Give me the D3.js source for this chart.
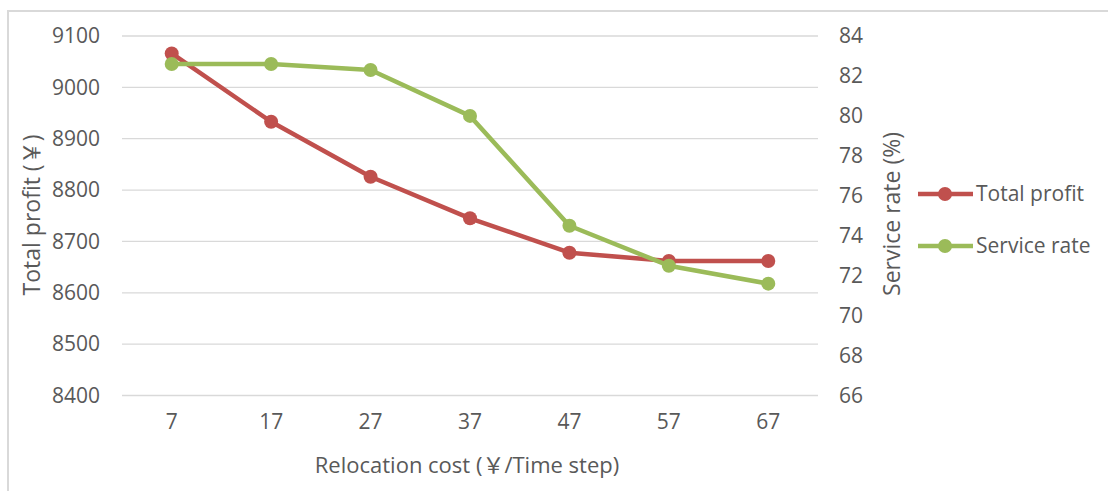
<!DOCTYPE html>
<html>
<head>
<meta charset="utf-8">
<script src="https://cdn.jsdelivr.net/npm/d3@7"></script>
<style>
  body { margin: 0; background: white; }
  svg { font-family: "Open Sans", "DejaVu Sans", sans-serif; }
  .cjk { font-family: "Noto Sans CJK SC", sans-serif; }
</style>
</head>
<body>
<div id="chart"></div>
<script>
// data
const costs = ["7", "17", "27", "37", "47", "57", "67"];
const totalProfit = [9066, 8933, 8826, 8745, 8678, 8662, 8662];
const serviceRate = [82.6, 82.6, 82.3, 80.0, 74.5, 72.5, 71.6];
const profitTicks = [8400, 8500, 8600, 8700, 8800, 8900, 9000, 9100];
const rateTicks = [66, 68, 70, 72, 74, 76, 78, 80, 82, 84];
const seriesNames = ["Total profit", "Service rate"];

const width = 1108, height = 491;
const margin = {top: 36, right: 290, bottom: 95.5, left: 122};
const red = "#C0504D", green = "#9BBB59", textCol = "#595959";

const svg = d3.select("#chart").append("svg")
    .attr("width", width).attr("height", height);

// outer chart border (only top and left visible in the crop)
svg.append("path")
    .attr("d", `M8,${height} L8,11 L${width},11`)
    .attr("fill", "none").attr("stroke", "#d9d9d9").attr("stroke-width", 2);

const x = d3.scaleBand().domain(costs).range([margin.left, width - margin.right]);
const yL = d3.scaleLinear().domain([8400, 9100]).range([height - margin.bottom, margin.top]);
const yR = d3.scaleLinear().domain([66, 84]).range([height - margin.bottom, margin.top]);

// gridlines
svg.append("g").selectAll("line")
    .data(profitTicks).join("line")
    .attr("x1", margin.left).attr("x2", width - margin.right)
    .attr("y1", d => yL(d)).attr("y2", d => yL(d))
    .attr("stroke", "#d9d9d9").attr("stroke-width", 1.3);

function styleAxis(g) {
    g.attr("font-family", null).attr("font-size", null);
    g.select(".domain").remove();
    g.selectAll("text").attr("fill", textCol).style("font-size", "21px");
}

// left axis
svg.append("g").attr("transform", `translate(${margin.left - 22},0)`)
    .call(d3.axisLeft(yL).tickValues(profitTicks).tickFormat(d3.format("d")).tickSize(0).tickPadding(0))
    .call(styleAxis);

// right axis
svg.append("g").attr("transform", `translate(${width - margin.right + 21},0)`)
    .call(d3.axisRight(yR).tickValues(rateTicks).tickSize(0).tickPadding(0))
    .call(styleAxis);

// bottom axis
svg.append("g").attr("transform", `translate(0,${height - margin.bottom + 19})`)
    .call(d3.axisBottom(x).tickSize(0).tickPadding(0))
    .call(styleAxis);

// axis titles
const t1 = svg.append("text")
    .attr("transform", `translate(40,215) rotate(-90)`)
    .attr("text-anchor", "middle").attr("fill", textCol).style("font-size", "23px");
t1.append("tspan").text("Total profit (");
t1.append("tspan").attr("class", "cjk").text("￥");
t1.append("tspan").text(")");

svg.append("text")
    .attr("transform", `translate(900,214) rotate(-90)`)
    .attr("text-anchor", "middle").attr("fill", textCol).style("font-size", "23px")
    .text("Service rate (%)");

const t3 = svg.append("text")
    .attr("x", 467).attr("y", 473)
    .attr("text-anchor", "middle").attr("fill", textCol).style("font-size", "22px");
t3.append("tspan").text("Relocation cost (");
t3.append("tspan").attr("class", "cjk").text("￥");
t3.append("tspan").text("/Time step)");

const cx = d => x(d) + x.bandwidth() / 2;

function drawSeries(values, scale, color) {
    const pts = costs.map((c, i) => [cx(c), scale(values[i])]);
    svg.append("path")
        .attr("d", d3.line()(pts))
        .attr("fill", "none").attr("stroke", color)
        .attr("stroke-width", 4.5).attr("stroke-linejoin", "round");
    svg.append("g").selectAll("circle")
        .data(pts).join("circle")
        .attr("cx", d => d[0]).attr("cy", d => d[1])
        .attr("r", 7).attr("fill", color);
}

drawSeries(totalProfit, yL, red);
drawSeries(serviceRate, yR, green);

// legend
const legend = svg.append("g").selectAll("g")
    .data(seriesNames).join("g")
    .attr("transform", (d, i) => `translate(918,${194 + i * 52})`);
legend.append("line")
    .attr("x1", 0).attr("x2", 55).attr("y1", 0).attr("y2", 0)
    .attr("stroke", (d, i) => i === 0 ? red : green).attr("stroke-width", 4.5);
legend.append("circle")
    .attr("cx", 27).attr("cy", 0).attr("r", 7)
    .attr("fill", (d, i) => i === 0 ? red : green);
legend.append("text")
    .attr("x", 58).attr("y", 0).attr("dy", "0.35em")
    .attr("fill", textCol).style("font-size", "21px")
    .text(d => d);
</script>
</body>
</html>
